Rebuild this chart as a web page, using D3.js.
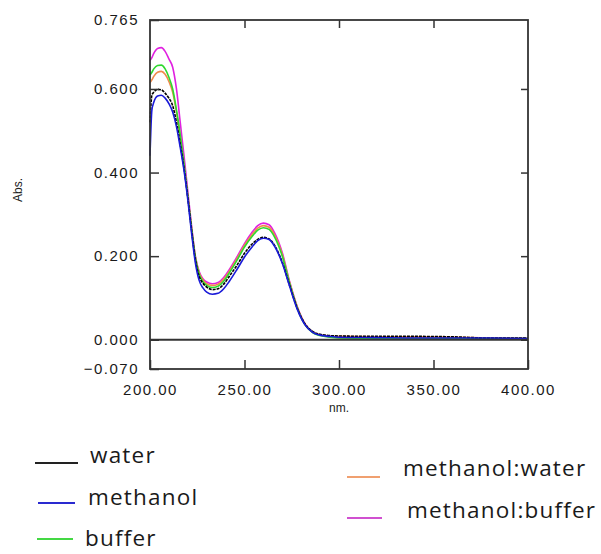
<!DOCTYPE html>
<html><head><meta charset="utf-8">
<script src="https://cdn.jsdelivr.net/npm/d3@7"></script>
<style>
body{margin:0;background:#fff;}
svg{display:block;}
</style></head>
<body><svg id="c" width="601" height="554"></svg>
<script>
const wavelengths = [200,201,202,204,206,208,210,212,214,216,218,220,222,224,226,228,230,233,236,239,242,246,250,254,257,260,263,266,270,274,278,282,286,290,295,300,320,340,360,380,400];
const water = [0.52,0.585,0.592,0.599,0.598,0.590,0.578,0.560,0.520,0.468,0.410,0.340,0.262,0.192,0.152,0.135,0.126,0.120,0.122,0.133,0.152,0.178,0.207,0.229,0.240,0.245,0.241,0.225,0.185,0.128,0.074,0.038,0.020,0.013,0.010,0.009,0.008,0.008,0.007,0.004,0.004];
const methanol = [0.44,0.55,0.568,0.583,0.585,0.578,0.565,0.545,0.510,0.460,0.405,0.335,0.255,0.184,0.142,0.124,0.114,0.109,0.111,0.122,0.140,0.168,0.198,0.222,0.237,0.243,0.240,0.223,0.183,0.126,0.072,0.036,0.018,0.011,0.008,0.006,0.005,0.004,0.004,0.004,0.003];
const buffer = [0.633,0.640,0.648,0.656,0.657,0.648,0.628,0.600,0.550,0.490,0.420,0.343,0.265,0.196,0.157,0.139,0.130,0.125,0.128,0.140,0.160,0.190,0.222,0.247,0.262,0.268,0.264,0.245,0.200,0.133,0.075,0.036,0.017,0.010,0.006,0.004,0.003,0.003,0.003,0.003,0.003];
const methanolWater = [0.615,0.622,0.630,0.640,0.642,0.635,0.618,0.592,0.545,0.487,0.420,0.345,0.267,0.198,0.160,0.143,0.134,0.130,0.133,0.145,0.164,0.194,0.226,0.252,0.267,0.273,0.269,0.250,0.204,0.135,0.077,0.038,0.019,0.012,0.009,0.008,0.007,0.007,0.006,0.004,0.003];
const methanolBuffer = [0.668,0.675,0.685,0.697,0.699,0.690,0.672,0.652,0.600,0.520,0.440,0.355,0.272,0.200,0.163,0.146,0.138,0.134,0.137,0.149,0.168,0.198,0.230,0.257,0.273,0.279,0.275,0.255,0.208,0.137,0.078,0.038,0.018,0.011,0.007,0.005,0.004,0.004,0.003,0.003,0.003];
const seriesNames = ["water","methanol","buffer","methanol:water","methanol:buffer"];
const seriesColors = ["#000000","#1a1ad8","#2ed82e","#f08a4b","#e020e0"];
const legendColors = ["#222222","#2a2ad0","#44d844","#f0a070","#d050d0"];
const yTicks = [-0.070,0.000,0.200,0.400,0.600,0.765];
const xTicks = [200,250,300,350,400];
const yLabel = "Abs.";
const xLabel = "nm.";

const seriesValues = [water, methanol, buffer, methanolWater, methanolBuffer];
const svg = d3.select("#c");
const L=150,R=528,T=20,B=369;
const x = d3.scaleLinear().domain([200,400]).range([L,R]);
const y = d3.scaleLinear().domain([-0.07,0.765]).range([B,T]);
const axisColor="#333";
const tickFont = "Liberation Sans, Arial, sans-serif";

// curves
const line = d3.line().x(d=>x(d[0])).y(d=>y(d[1])).curve(d3.curveMonotoneX);
const drawOrder = [4,3,2,0,1];
drawOrder.forEach(i=>{
  const pts = wavelengths.map((w,k)=>[w,seriesValues[i][k]]);
  svg.append("path").attr("d",line(pts)).attr("fill","none")
    .attr("stroke",seriesColors[i]).attr("stroke-width",1.6)
    .attr("stroke-dasharray", i===0 ? "3,1" : null);
});

// axes
const gl = svg.append("g").attr("transform",`translate(${L},0)`)
  .call(d3.axisLeft(y).tickValues(yTicks).tickFormat(d3.format(".3f")).tickSizeInner(-9).tickSizeOuter(0).tickPadding(12));
const gr = svg.append("g").attr("transform",`translate(${R},0)`)
  .call(d3.axisRight(y).tickValues(yTicks.slice(1,5)).tickFormat("").tickSizeInner(-7).tickSizeOuter(0));
const gb = svg.append("g").attr("transform",`translate(0,${B})`)
  .call(d3.axisBottom(x).tickValues(xTicks).tickFormat(d3.format(".2f")).tickSizeInner(-9).tickSizeOuter(0).tickPadding(15));
const gt = svg.append("g").attr("transform",`translate(0,${T})`)
  .call(d3.axisTop(x).tickValues(xTicks.slice(1,4)).tickFormat("").tickSizeInner(-8).tickSizeOuter(0));
[gl,gr,gb,gt].forEach(g=>{
  g.select(".domain").remove();
  g.selectAll(".tick line").attr("stroke",axisColor).attr("stroke-width",1.5);
  g.selectAll("text").attr("fill","#1a1a1a").style("font-family",tickFont).style("font-size","15px").style("letter-spacing","1.5px");
});
gl.selectAll(".tick text").attr("dx","1px");

// frame and zero line
svg.append("rect").attr("x",L).attr("y",T).attr("width",R-L).attr("height",B-T)
  .attr("fill","none").attr("stroke",axisColor).attr("stroke-width",1.8);
svg.append("line").attr("x1",L).attr("x2",R).attr("y1",y(0)).attr("y2",y(0))
  .attr("stroke",axisColor).attr("stroke-width",1.8);

// axis labels
svg.append("text").attr("transform",`translate(22,190) rotate(-90)`).attr("text-anchor","middle")
  .style("font-family",tickFont).style("font-size","12px").attr("fill","#222").text(yLabel);
svg.append("text").attr("x",339).attr("y",412).attr("text-anchor","middle")
  .style("font-family",tickFont).style("font-size","12px").attr("fill","#222").text(xLabel);

// legend
const legendPos = [
  {lx1:35,lx2:78,ly:463,tx:90,ty:463},
  {lx1:38,lx2:75,ly:503,tx:88,ty:505},
  {lx1:37,lx2:73,ly:539,tx:85,ty:546},
  {lx1:347,lx2:380,ly:477,tx:403,ty:476},
  {lx1:347,lx2:382,ly:518,tx:407,ty:518}
];
seriesNames.forEach((n,i)=>{
  const p=legendPos[i];
  svg.append("line").attr("x1",p.lx1).attr("x2",p.lx2).attr("y1",p.ly).attr("y2",p.ly)
    .attr("stroke",legendColors[i]).attr("stroke-width",2);
  svg.append("text").attr("x",p.tx).attr("y",p.ty).attr("fill","#1a1a1a")
    .style("font-family","Open Sans, sans-serif").style("font-size","22.5px").style("letter-spacing","1.2px").text(n);
});
</script></body></html>
